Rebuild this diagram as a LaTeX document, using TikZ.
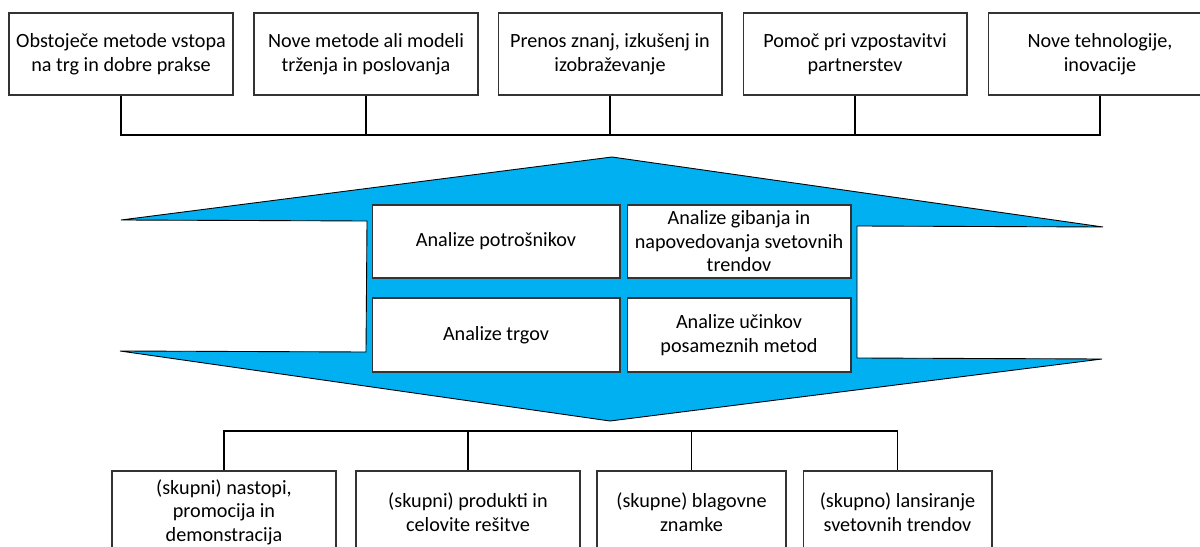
\documentclass[tikz,border=0pt]{standalone}
\usepackage{fontspec}
\setmainfont{Carlito}
\usepackage{tikz}
\usetikzlibrary{calc}
\definecolor{arrowblue}{HTML}{00B0F0}
\tikzset{
  box/.style={draw=black!80, fill=white, line width=0.6pt, inner sep=0pt, align=center,
    font=\fontsize{11.5}{13.4}\selectfont},
  widebox/.style={box, minimum width=4.48cm, minimum height=1.64cm},
  link/.style={draw=black, line width=0.6pt}
}

\begin{document}
\begin{tikzpicture}[x=0.02cm, y=-0.02cm]
        \clip (0,0) rectangle (1200,547);

        % blue double arrow
        \draw[fill=arrowblue, draw=black, line width=0.5pt]
            (612,157) -- (1103,227) -- (857,226) -- (857,358) -- (1102,359)
            -- (610,421) -- (120,351) -- (366,352) -- (367,221) -- (121,220) -- cycle;

        % top row
        \node[widebox] (t1) at (121,54) {Obstoječe metode vstopa\\na trg in dobre prakse};
        \node[widebox] (t2) at (366,54) {Nove metode ali modeli\\trženja in poslovanja};
        \node[widebox] (t3) at (610,54) {Prenos znanj, izkušenj in\\izobraževanje};
        \node[widebox] (t4) at (855,54) {Pomoč pri vzpostavitvi\\partnerstev};
        \node[widebox] (t5) at (1100,54) {Nove tehnologije,\\inovacije};

        \coordinate (topbus) at (612,135);
        \draw[link] (t1.south) |- (topbus) -| (t5.south);
        \draw[link] (t2.south) -- (t2.south |- topbus);
        \draw[link] (t3.south) -- (t3.south |- topbus);
        \draw[link] (t4.south) -- (t4.south |- topbus);

        % analyses inside the arrow
        \node[box, minimum width=4.96cm, minimum height=1.46cm] (m1) at (496,241.5) {Analize potrošnikov};
        \node[box, minimum width=4.48cm, minimum height=1.46cm] (m2) at (739,241.5) {Analize gibanja in\\napovedovanja svetovnih\\trendov};
        \node[box, minimum width=4.96cm, minimum height=1.48cm] (m3) at (496,335) {Analize trgov};
        \node[box, minimum width=4.48cm, minimum height=1.48cm] (m4) at (739,335) {Analize učinkov\\posameznih metod};

        % bottom row
        \node[widebox] (b1) at (224,512) {(skupni) nastopi,\\promocija in\\demonstracija};
        \node[widebox] (b2) at (468,512) {(skupni) produkti in\\celovite rešitve};
        \node[box, minimum width=3.78cm, minimum height=1.64cm] (b3) at (691.5,512) {(skupne) blagovne\\znamke};
        \node[box, minimum width=3.78cm, minimum height=1.64cm] (b4) at (897.5,512) {(skupno) lansiranje\\svetovnih trendov};

        \coordinate (botbus) at (560,431);
        \draw[link] (b1.north) |- (botbus) -| (b4.north);
        \draw[link] (b2.north) -- (b2.north |- botbus);
        \draw[link] (b3.north) -- (b3.north |- botbus);
    \end{tikzpicture}
\end{document}
